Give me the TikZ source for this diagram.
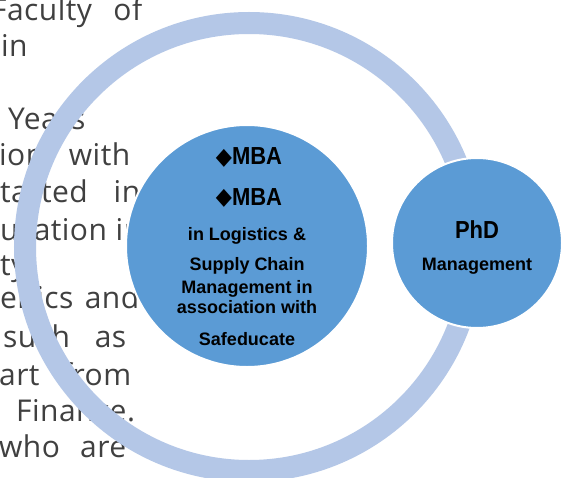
\documentclass[tikz,border=0pt]{standalone}
\usepackage{fontspec}
\setmainfont{Liberation Sans}
\newfontfamily\bgfont[LetterSpace=1.5]{Open Sans}
\newfontfamily\symfont{DejaVu Sans}
\definecolor{ringblue}{HTML}{B4C7E7}
\definecolor{discblue}{HTML}{5B9BD5}
\definecolor{bggray}{HTML}{404040}
\begin{document}
\begin{tikzpicture}[x=1pt,y=-1pt,
  bgtext/.style={anchor=base west,inner sep=0pt,text=bggray,font=\bgfont\fontsize{30}{30}\selectfont},
  ringshape/.style={circle,draw=ringblue,line width=22pt,minimum size=448pt,inner sep=0pt},
  disc/.style={circle,fill=discblue,draw=white,line width=2pt,inner sep=0pt},
  big/.style={anchor=base,inner sep=0pt,font=\bfseries\fontsize{22}{22}\selectfont},
  small/.style={anchor=base,inner sep=0pt,font=\bfseries\fontsize{18}{18}\selectfont}]
\useasboundingbox[fill=white] (0,0) rectangle (561,478);
% background text (partly hidden)
\node[bgtext] (bg1) at (-9,21) {\makebox[151pt][s]{Faculty of}};
\node[bgtext] (bg2) at (1,57) {in};
\node[bgtext] (bg3) at (8,130) {Years};
\node[bgtext] (bg4) at (-1,166) {\makebox[131pt][s]{ion with}};
\node[bgtext] (bg5) at (0,203) {\makebox[140pt][s]{tarted in}};
\node[bgtext] (bg6) at (0,240) {\makebox[142pt][s]{ucation in}};
\node[bgtext] (bg7) at (0,275) {ty};
\node[bgtext] (bg8) at (0,308) {\makebox[139pt][s]{enics and}};
\node[bgtext] (bg9) at (3,347) {\makebox[123pt][s]{such as}};
\node[bgtext] (bg10) at (-1,385) {\makebox[132pt][s]{art from}};
\node[bgtext] (bg11) at (16,421) {Finance.};
\node[bgtext] (bg12) at (-1,457) {\makebox[127pt][s]{who are}};
% ring
\node[ringshape] (ring) at (249,247) {};
% discs
\node[disc,minimum size=242pt] (mid) at (247,246) {};
\node[disc,minimum size=170pt] (phd) at (477,243) {};
% middle texts
\node[big] (m1) at (249,165) {\scalebox{1}[1.12]{\raisebox{0.5pt}{\symfont\fontsize{21}{21}\selectfont ◆}MBA}};
\node[big] (m2) at (249,205) {\scalebox{1}[1.12]{\raisebox{0.5pt}{\symfont\fontsize{21}{21}\selectfont ◆}MBA}};
\node[small] (m3) at (247,240) {in Logistics \&};
\node[small] (m4) at (247,270) {Supply Chain};
\node[small] (m5) at (247,293) {Management in};
\node[small] (m6) at (247,313) {association with};
\node[small] (m7) at (247,345) {Safeducate};
% phd texts
\node[big] (p1) at (477,238) {\scalebox{1}[1.12]{PhD}};
\node[small] (p2) at (477,270) {Management};
\end{tikzpicture}
\end{document}
